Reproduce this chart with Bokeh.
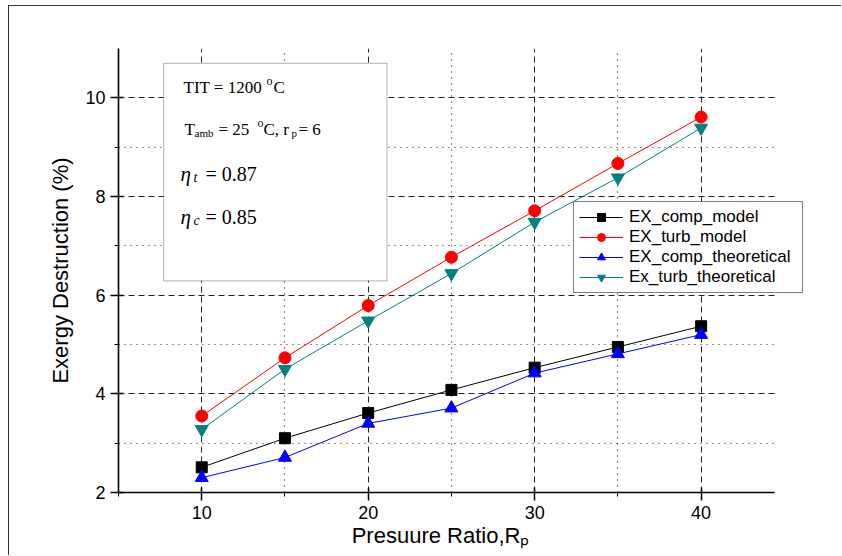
from bokeh.plotting import figure
from bokeh.models import FixedTicker, Label, BoxAnnotation, Range1d
from bokeh.embed import file_html
from bokeh.resources import INLINE

pressure_ratio = [10, 15, 20, 25, 30, 35, 40]
ex_comp_model = [2.51, 3.10, 3.61, 4.08, 4.53, 4.95, 5.37]
ex_turb_model = [3.55, 4.73, 5.79, 6.77, 7.71, 8.67, 9.61]
ex_comp_theoretical = [2.30, 2.71, 3.40, 3.71, 4.42, 4.81, 5.20]
ex_turb_theoretical = [3.28, 4.50, 5.48, 6.44, 7.48, 8.38, 9.39]

x_major = [10, 20, 30, 40]
x_minor = [5, 15, 25, 35]
y_major = [2, 4, 6, 8, 10]
y_minor = [3, 5, 7, 9]
x_axis_end = 44.4

SANS = "Liberation Sans"
SERIF = "Liberation Serif"

p = figure(width=833, height=550, output_backend="svg", toolbar_location=None,
           x_range=Range1d(5, 46.63), y_range=Range1d(2, 11),
           min_border_left=109, min_border_right=31, min_border_top=42, min_border_bottom=64,
           margin=(5, 0, 0, 8))
p.styles = {"border-left": "1px solid #333", "border-top": "1px solid #333"}
p.outline_line_color = None
p.background_fill_color = "white"
p.border_fill_color = "white"

p.xaxis.ticker = FixedTicker(ticks=x_major, minor_ticks=x_minor)
p.yaxis.ticker = FixedTicker(ticks=y_major, minor_ticks=y_minor)
p.xaxis.bounds = (5, x_axis_end)

for ax in (p.xaxis, p.yaxis):
    ax.axis_line_width = 1.6
    ax.axis_line_color = "black"
    ax.major_tick_in = 5
    ax.major_tick_out = 8
    ax.major_tick_line_width = 1.5
    ax.minor_tick_in = 1
    ax.minor_tick_out = 4
    ax.minor_tick_line_width = 1
    ax.major_label_text_font = SANS
    ax.major_label_text_font_size = "18px"
    ax.major_label_text_color = "black"
    ax.axis_label_text_font = SANS
    ax.axis_label_text_font_style = "normal"
    ax.axis_label_text_color = "black"
    ax.major_label_standoff = 5
    ax.axis_label_standoff = 1

p.xaxis.axis_label = "Presuure Ratio,R\u209a" + "\u00a0" * 8
p.xaxis.axis_label_text_font_size = "22px"
p.yaxis.axis_label = "Exergy Destruction (%)"
p.yaxis.axis_label_text_font_size = "22px"
p.yaxis.axis_label_standoff = 9

for g in (p.xgrid, p.ygrid):
    g.grid_line_color = "#222222"
    g.grid_line_dash = "6 4"
    g.grid_line_width = 1
    g.minor_grid_line_color = "#222222"
    g.minor_grid_line_dash = "1 5"
    g.minor_grid_line_width = 1.2
p.ygrid.cross_bounds = (5, x_axis_end)

series = [
    ("EX_comp_model", ex_comp_model, "black", "square", 11),
    ("EX_turb_model", ex_turb_model, "red", "circle", 12),
    ("EX_comp_theoretical", ex_comp_theoretical, "blue", "triangle", 13),
    ("Ex_turb_theoretical", ex_turb_theoretical, "#008080", "inverted_triangle", 13),
]
for name, vals, col, mk, sz in series:
    p.line(pressure_ratio, vals, line_color=col, line_width=1, legend_label=name)
    p.scatter(pressure_ratio, vals, marker=mk, size=sz, fill_color=col, line_color=col,
              legend_label=name)

leg = p.legend[0]
leg.location = (455, 199)
leg.border_line_color = "black"
leg.border_line_width = 1
leg.background_fill_color = "white"
leg.background_fill_alpha = 1
leg.label_text_font = SANS
leg.label_text_font_size = "17px"
leg.label_text_color = "black"
leg.glyph_width = 44
leg.glyph_height = 20
leg.label_height = 20
leg.label_width = 168
leg.spacing = 0
leg.padding = 5
leg.margin = 0
leg.label_standoff = 6

# parameter text box
box = BoxAnnotation(left=7.71, right=21.13, top=10.70, bottom=6.29,
                    fill_color="white", fill_alpha=1, line_color="black", line_width=1)
p.add_layout(box)

def txt(s, dx, dy, size, font=SERIF, style="normal"):
    p.add_layout(Label(x=5, y=11, x_offset=dx, y_offset=-(dy - 5), text=s,
                       text_font=font, text_font_size=size, text_font_style=style,
                       text_color="black", text_baseline="alphabetic", text_align="left"))

# line 1
txt("TIT = 1200", 65, 44, "17px")
txt("o", 148, 37, "12px")
txt("C", 155, 44, "17px")
# line 2
txt("T", 66, 86, "17px")
txt("amb", 76, 89, "11px")
txt("= 25", 100, 86, "17px")
txt("o", 139, 79, "12px")
txt("C, r", 145, 86, "17px")
txt("p", 173, 89, "11px")
txt("= 6", 180, 86, "17px")
# line 3
txt("\u03b7", 62, 130, "21px", style="italic")
txt("t", 75, 134, "14px", style="italic")
txt("= 0.87", 87, 130, "20px")
# line 4
txt("\u03b7", 62, 173, "21px", style="italic")
txt("c", 75, 177, "14px", style="italic")
txt("= 0.85", 87, 173, "20px")

open("out.html", "w").write(file_html(p, INLINE))
